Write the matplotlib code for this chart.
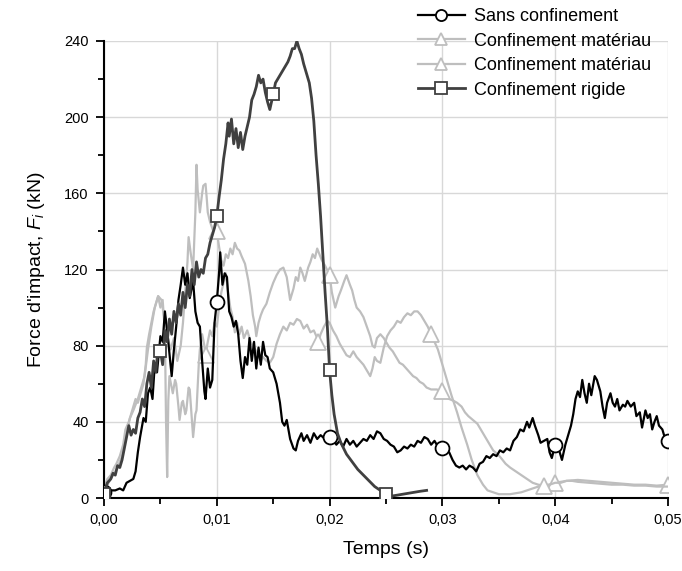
import numpy as np
import matplotlib
matplotlib.use("Agg")
import matplotlib.pyplot as plt
from matplotlib.ticker import MultipleLocator, FuncFormatter

# ---------------- data ----------------
sans_t = [0, 0.0005, 0.001, 0.0014, 0.0017, 0.002, 0.0023, 0.0026, 0.0028, 0.003, 0.0032, 0.0035, 0.0037,
          0.0039, 0.0041, 0.0043, 0.0045, 0.0047, 0.005, 0.0052, 0.0054, 0.0056, 0.0058, 0.006, 0.0062, 0.0064,
          0.0066, 0.0068, 0.007, 0.0072, 0.0074, 0.0076, 0.0079, 0.0081, 0.0083, 0.0085, 0.0087, 0.0089, 0.009,
          0.0092, 0.0094, 0.0096, 0.0098, 0.01, 0.0102, 0.0103, 0.0105, 0.0107, 0.0109, 0.0111, 0.0113, 0.0115,
          0.0117, 0.0119, 0.0121, 0.0123, 0.0125, 0.0127, 0.0129, 0.0131, 0.0133, 0.0135, 0.0137, 0.0139, 0.0141,
          0.0143, 0.0145, 0.0147, 0.015, 0.0153, 0.0156, 0.0158, 0.016, 0.0162, 0.0165, 0.0168, 0.017, 0.0172,
          0.0175, 0.0177, 0.018, 0.0183, 0.0186, 0.0189, 0.0192, 0.0196, 0.02, 0.0203, 0.0206, 0.0209, 0.0212,
          0.0215, 0.0218, 0.0221, 0.0224, 0.0227, 0.023, 0.0233, 0.0236, 0.0239, 0.0242, 0.0245, 0.0248, 0.0251,
          0.0254, 0.0257, 0.026, 0.0263, 0.0266, 0.0269, 0.0272, 0.0275, 0.0278, 0.0281, 0.0284, 0.0287, 0.029,
          0.0293, 0.0296, 0.03, 0.0303, 0.0306, 0.0309, 0.0312, 0.0315, 0.0318, 0.0321, 0.0324, 0.0327, 0.033,
          0.0333, 0.0336, 0.0339, 0.0342, 0.0345, 0.0348, 0.0351, 0.0354, 0.0357, 0.036, 0.0363, 0.0366, 0.0369,
          0.0372, 0.0375, 0.0377, 0.038, 0.0382, 0.0385, 0.0387, 0.039, 0.0393, 0.0395, 0.0397, 0.04, 0.0403,
          0.0406, 0.0409, 0.0412, 0.0414, 0.0416, 0.0418, 0.042, 0.0422, 0.0424, 0.0426, 0.0428, 0.043, 0.0432,
          0.0435, 0.0437, 0.044, 0.0442, 0.0444, 0.0446, 0.0449, 0.0451, 0.0453, 0.0455, 0.0457, 0.046, 0.0462,
          0.0464, 0.0467, 0.047, 0.0472, 0.0475, 0.0477, 0.048, 0.0482, 0.0484, 0.0486, 0.0488, 0.049, 0.0492,
          0.0495, 0.0497, 0.05]
sans_f = [3, 4, 4, 5, 4, 8, 9, 10, 14, 24, 32, 42, 40,
          55, 58, 52, 70, 66, 85, 82, 98, 88, 76, 64, 78, 90,
          104, 112, 121, 112, 118, 105, 114, 98, 92, 90, 72, 56, 52,
          68, 58, 62, 92, 103, 118, 129, 112, 118, 116, 98, 95, 90,
          93, 86, 72, 63, 74, 70, 84, 72, 82, 68, 79, 70, 82,
          75, 74, 68, 66, 60, 50, 40, 38, 41, 31, 26, 25, 30,
          34, 30, 33, 29, 34, 31, 33, 31, 32, 31, 28, 30, 27,
          31, 28, 30, 27, 29, 31, 30, 33, 31, 35, 34, 31, 30,
          28, 27, 24, 25, 27, 26, 28, 27, 30, 29, 32, 31, 28,
          30, 27, 26, 25, 24, 20, 17, 16, 17, 15, 17, 16, 14,
          18, 19, 22, 21, 23, 22, 25, 24, 26, 25, 30, 32, 36,
          35, 40, 37, 42, 38, 33, 29, 30, 31, 24, 21, 28, 26,
          20, 28, 34, 38, 44, 52, 56, 53, 62, 55, 50, 60, 54,
          64, 62, 56, 48, 42, 50, 55, 50, 48, 52, 46, 49, 48,
          51, 48, 50, 43, 45, 37, 46, 42, 44, 36, 40, 43, 38,
          36, 32, 30]

matA_t = [0, 0.0004, 0.0008, 0.0012, 0.0016, 0.002, 0.0023, 0.0026, 0.003, 0.0033, 0.0036, 0.0039, 0.0042,
          0.0045, 0.0048, 0.0051, 0.0053, 0.0056, 0.0059, 0.0062, 0.0065, 0.0068, 0.007, 0.0072, 0.0074, 0.0075,
          0.0077, 0.0079, 0.0081, 0.0082, 0.0083, 0.0085, 0.0087, 0.0088, 0.009, 0.0091, 0.0092, 0.0094, 0.0097,
          0.01, 0.0102, 0.0104, 0.0106, 0.0108, 0.011, 0.0112, 0.0114, 0.0116, 0.0118, 0.012, 0.0122, 0.0125,
          0.0128, 0.013, 0.0132, 0.0134, 0.0135, 0.0137, 0.0139, 0.0141, 0.0144, 0.0147, 0.015, 0.0153, 0.0156,
          0.0159, 0.0162, 0.0165, 0.0168, 0.017, 0.0172, 0.0174, 0.0176, 0.0178, 0.0181, 0.0183, 0.0185, 0.0187,
          0.0189, 0.0191, 0.0193, 0.0196, 0.02, 0.0202, 0.0205, 0.0208, 0.021, 0.0213, 0.0215, 0.0218, 0.022,
          0.0222, 0.0224, 0.0227, 0.023, 0.0233, 0.0236, 0.0238, 0.024, 0.0242, 0.0245, 0.0248, 0.025, 0.0253,
          0.0256, 0.0259, 0.0262, 0.0265, 0.0268, 0.0271, 0.0274, 0.0277, 0.028, 0.0283, 0.0286, 0.029, 0.0295,
          0.03, 0.0303, 0.0306, 0.031, 0.0313, 0.0317, 0.032, 0.0323, 0.0327, 0.0331, 0.0335, 0.0338, 0.0342,
          0.0345, 0.0349, 0.0352, 0.0356, 0.036, 0.0365, 0.037, 0.0375, 0.038, 0.0385, 0.039, 0.0395, 0.04,
          0.0405, 0.041, 0.042, 0.043, 0.044, 0.045, 0.046, 0.047, 0.048, 0.049, 0.05]
matA_f = [3, 8, 12, 16, 22, 34, 42, 46, 52, 58, 64, 78, 90,
          100, 106, 104, 96, 86, 78, 84, 72, 80, 92, 108, 124, 137,
          128, 120, 150, 175, 162, 150, 160, 164, 165, 158, 150, 145, 140,
          140, 132, 125, 122, 128, 126, 131, 128, 134, 131, 130, 127, 123,
          114, 106, 96, 90, 85, 92, 96, 99, 102, 108, 113, 117, 120,
          121, 116, 104, 110, 116, 114, 121, 118, 114, 121, 124, 128, 126,
          131, 128, 125, 122, 117, 108, 100, 106, 109, 114, 117, 112, 109,
          104, 100, 98, 95, 90, 85, 80, 79, 84, 86, 84, 82, 79,
          77, 74, 71, 70, 68, 66, 64, 63, 61, 60, 58, 57, 57,
          56, 53, 52, 51, 50, 48, 45, 43, 41, 39, 35, 32, 28,
          25, 23, 21, 18, 16, 14, 12, 10, 8, 7, 6.5, 7, 8,
          8.5, 9, 9.5, 9, 8.5, 8, 7.5, 7, 7, 6.5, 7]

matB_t = [0, 0.0003, 0.0006, 0.0009, 0.0011, 0.0014, 0.0017, 0.0019, 0.0022, 0.0024, 0.0026, 0.0028, 0.003,
          0.0033, 0.0035, 0.0037, 0.0038, 0.004, 0.0042, 0.0044, 0.0046, 0.0048, 0.005, 0.0052, 0.0054, 0.0055,
          0.0056, 0.0057, 0.0058, 0.006, 0.0061, 0.0063, 0.0064, 0.0066, 0.0067, 0.0069, 0.007, 0.0072, 0.0073,
          0.0075, 0.0076, 0.0078, 0.0079, 0.0081, 0.0082, 0.0084, 0.0085, 0.0087, 0.0089, 0.009, 0.0092, 0.0094,
          0.0096, 0.0098, 0.01, 0.0102, 0.0104, 0.0106, 0.0108, 0.011, 0.0112, 0.0114, 0.0116, 0.0118, 0.012,
          0.0122, 0.0124, 0.0127, 0.013, 0.0133, 0.0136, 0.0139, 0.0141, 0.0144, 0.0147, 0.015, 0.0153, 0.0156,
          0.0159, 0.0162, 0.0165, 0.0168, 0.0171, 0.0174, 0.0177, 0.018, 0.0183, 0.0186, 0.0189, 0.019, 0.0192,
          0.0195, 0.0198, 0.02, 0.0203, 0.0206, 0.0209, 0.0212, 0.0215, 0.0218, 0.0221, 0.0224, 0.0227, 0.023,
          0.0233, 0.0236, 0.0238, 0.024, 0.0242, 0.0245, 0.0248, 0.0251, 0.0254, 0.0257, 0.026, 0.0263, 0.0266,
          0.0269, 0.0272, 0.0275, 0.0278, 0.0281, 0.0284, 0.0287, 0.029, 0.0293, 0.0296, 0.03, 0.0304, 0.0308,
          0.0313, 0.0317, 0.0322, 0.0326, 0.0331, 0.0336, 0.034, 0.0345, 0.035, 0.0355, 0.036, 0.0365, 0.037,
          0.0375, 0.038, 0.0385, 0.039, 0.0395, 0.04, 0.0405, 0.041, 0.0415, 0.042, 0.043, 0.044, 0.045, 0.046,
          0.047, 0.048, 0.049, 0.05]
matB_f = [5, 10, 12, 16, 18, 22, 28, 36, 40, 44, 48, 52, 50,
          56, 60, 70, 79, 86, 92, 98, 102, 106, 100, 104, 87, 40,
          11, 51, 64, 58, 55, 62, 60, 48, 41, 50, 51, 44, 46,
          58, 57, 40, 32, 44, 46, 70, 78, 86, 80, 75, 82, 88,
          85, 92, 90, 100, 108, 113, 118, 108, 100, 95, 87, 92, 86,
          90, 84, 88, 82, 79, 76, 72, 74, 72, 71, 74, 81, 86,
          90, 88, 92, 91, 94, 93, 89, 91, 87, 88, 84, 82, 86,
          90, 93, 92, 88, 85, 81, 78, 75, 74, 77, 74, 72, 70,
          67, 64, 68, 74, 72, 71, 79, 85, 88, 90, 93, 92, 95,
          97, 96, 98, 98, 96, 93, 90, 86, 82, 78, 70, 62, 54,
          45, 37, 28, 20, 12, 7, 4, 3, 2, 2, 2, 2.5, 3,
          4, 5, 6, 6.5, 7, 8, 8, 9, 9, 8.5, 8, 7.5, 7, 7,
          6.5, 6.5, 6, 6]

rig_t = [0, 0.0003, 0.0006, 0.0008, 0.001, 0.0012, 0.0014, 0.0016, 0.0018, 0.002, 0.0022, 0.0024, 0.0026,
         0.0028, 0.003, 0.0032, 0.0034, 0.0036, 0.0038, 0.004, 0.0042, 0.0044, 0.0046, 0.0048, 0.005, 0.0052,
         0.0054, 0.0056, 0.0058, 0.006, 0.0062, 0.0064, 0.0066, 0.0068, 0.007, 0.0072, 0.0074, 0.0076, 0.0078,
         0.008, 0.0082, 0.0084, 0.0086, 0.0088, 0.009, 0.0092, 0.0094, 0.0096, 0.0098, 0.01, 0.0102, 0.0104,
         0.0106, 0.0108, 0.011, 0.0111, 0.0113, 0.0115, 0.0117, 0.0119, 0.0121, 0.0123, 0.0125, 0.0127, 0.0129,
         0.0131, 0.0133, 0.0135, 0.0137, 0.0139, 0.0141, 0.0143, 0.0145, 0.0147, 0.015, 0.0152, 0.0155, 0.0158,
         0.016, 0.0163, 0.0165, 0.0167, 0.0169, 0.0171, 0.0173, 0.0175, 0.0177, 0.018, 0.0182, 0.0184, 0.0186,
         0.0188, 0.019, 0.0192, 0.0194, 0.0196, 0.0198, 0.02, 0.0202, 0.0204, 0.0207, 0.021, 0.0215, 0.022,
         0.0225, 0.023, 0.0235, 0.024, 0.0245, 0.025, 0.0255, 0.026, 0.0265, 0.027, 0.0275, 0.028, 0.0286]
rig_f = [2, 8, 10, 13, 12, 17, 16, 20, 26, 32, 38, 33, 36,
         34, 42, 45, 52, 48, 60, 66, 58, 72, 66, 80, 77, 70,
         88, 82, 94, 86, 98, 92, 102, 96, 108, 100, 112, 106, 120,
         112, 124, 116, 120, 118, 126, 128, 134, 138, 142, 148, 158, 167,
         178, 186, 197, 190, 199, 186, 194, 184, 192, 183, 190, 195, 200,
         209, 212, 216, 222, 218, 220, 213, 208, 204, 212, 218, 221, 224,
         226, 229, 232, 236, 236, 240, 236, 233, 228, 222, 218, 210, 198,
         180, 165, 148, 128, 108, 90, 67, 54, 44, 34, 29, 23, 19,
         15, 12, 9, 6, 4, 2, 1, 1.5, 2, 2.5, 3, 3.5, 4]

labels = ["Sans confinement", "Confinement matériau", "Confinement matériau", "Confinement rigide"]
x_ticks = [0.0, 0.01, 0.02, 0.03, 0.04, 0.05]
y_ticks = [0, 40, 80, 120, 160, 200, 240]

# ---------------- style ----------------
plt.rcParams['font.family'] = ['Liberation Sans', 'DejaVu Sans']
plt.rcParams['mathtext.fontset'] = 'custom'
plt.rcParams['mathtext.it'] = 'Liberation Sans:italic'
plt.rcParams['mathtext.rm'] = 'Liberation Sans'

fig = plt.figure(figsize=(6.82, 5.71), dpi=100)
ax = fig.add_axes([104 / 682, 73 / 571, 564 / 682, 457 / 571])


def marks(t, start, step, end):
    t = np.asarray(t)
    idx = []
    m = start
    while m <= end + 1e-9:
        if t[0] - 1e-9 <= m <= t[-1] + 1e-9:
            idx.append(int(np.argmin(np.abs(t - m))))
        m += step
    return idx


gray = '#bebebe'
ax.plot(sans_t, sans_f, color='black', lw=1.6, marker='o', ms=10, mfc='white', mec='black', mew=1.3,
        markevery=marks(sans_t, 0.0, 0.01, 0.05), label=labels[0], zorder=3)
ax.plot(matA_t, matA_f, color=gray, lw=1.6, marker='^', ms=11, mfc='white', mec=gray, mew=1.3,
        markevery=marks(matA_t, 0.0, 0.01, 0.05), label=labels[1], zorder=2)
ax.plot(matB_t, matB_f, color=gray, lw=1.6, marker='^', ms=11, mfc='white', mec=gray, mew=1.3,
        markevery=marks(matB_t, 0.009, 0.01, 0.04), label=labels[2], zorder=2)
ax.plot(rig_t, rig_f, color='#404040', lw=2.0, marker='s', ms=9, mfc='white', mec='#404040', mew=1.3,
        markevery=marks(rig_t, 0.0, 0.005, 0.05), label=labels[3], zorder=4)

ax.set_xlim(0, 0.05)
ax.set_ylim(0, 240)
ax.set_xticks(x_ticks)
ax.set_yticks(y_ticks)
ax.xaxis.set_minor_locator(MultipleLocator(0.005))
ax.yaxis.set_minor_locator(MultipleLocator(20))
ax.xaxis.set_major_formatter(FuncFormatter(lambda v, p: f"{v:.2f}".replace('.', ',')))
ax.tick_params(which='major', direction='out', length=6, width=1.3, labelsize=10.5, pad=5)
ax.tick_params(which='minor', direction='out', length=4, width=1.3)
for s in ['top', 'right']:
    ax.spines[s].set_visible(False)
for s in ['left', 'bottom']:
    ax.spines[s].set_linewidth(1.5)

ax.grid(True, which='major', color='#d8d8d8', lw=1.0, zorder=0)
ax.set_axisbelow(True)

ax.set_xlabel("Temps (s)", fontsize=14, labelpad=10)
ax.set_ylabel(r"Force d'impact, $F_i$ (kN)", fontsize=14, labelpad=12)

leg = ax.legend(loc='upper left', bbox_to_anchor=(418 / 682, 1 - 8 / 571), bbox_transform=fig.transFigure,
                frameon=False, fontsize=13, handlelength=2.6, handletextpad=0.5, labelspacing=0.42,
                borderpad=0, borderaxespad=0)
for h in leg.legend_handles:
    h.set_markersize(8)

fig.savefig("out.png", dpi=100)
